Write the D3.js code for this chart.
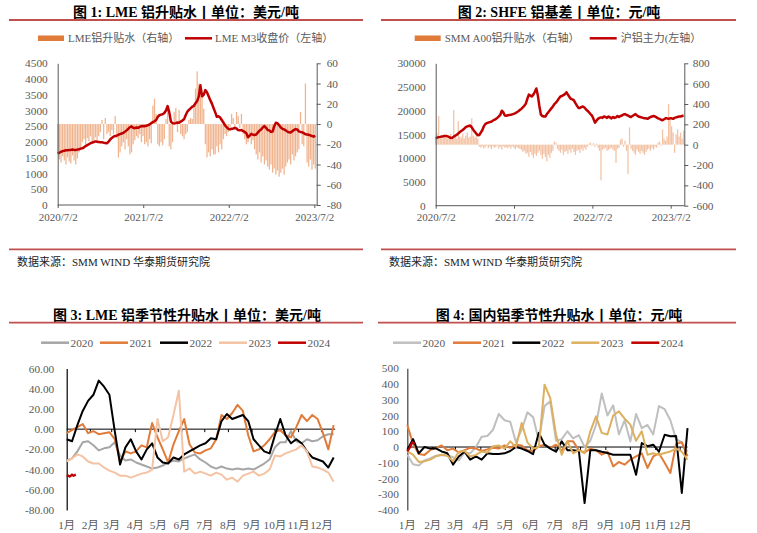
<!DOCTYPE html>
<html><head><meta charset="utf-8">
<script src="https://cdn.jsdelivr.net/npm/d3@7"></script>
<style>
body{margin:0;background:#fff}
svg{display:block}
text{font-family:"Liberation Serif","Times New Roman","Noto Sans CJK SC",serif}
</style>
</head><body>
<svg id="c" width="757" height="533"></svg>
<script>
// ---------------- DATA ----------------
// Panel 1: LME weekly, starting 2020/7/2
const p1Spread = [-30,-35,-38,-32,-36,-40,-33,-37,-39,-31,-36,-40,-34,
 -28,-24,
 -18,-15,-20,-14,-17,-12,-19,-16,-13,-18,
 -12,-8,4,-15,6,-10,
 -8,-12,-6,-10,8,-14,
 -33,-28,-22,
 -18,-25,-15,-22,-30,-28,-20,-16,-12,
 -14,-10,-18,-12,
 -20,-18,-22,-15,-19,
 18,25,10,
 -20,-22,-18,-21,-15,
 5,16,-22,-25,-18,
 12,16,-8,14,-10,
 -12,-15,-10,-8,
 4,6,5,
 20,35,52,40,28,
 30,15,
 -20,-33,-28,-32,-25,-30,
 -30,-22,-28,-20,
 -25,-15,-10,-12,
 -8,-5,10,6,-6,12,8,-4,10,
 -10,-15,-20,-18,-12,-20,-16,
 -25,-30,-35,-28,-38,-32,-40,-36,
 -42,-45,-40,-48,-44,-50,-46,-52,-48,-44,-50,-42,
 -38,-35,-40,-30,-36,-32,
 -28,-25,12,-20,-22,
 40,
 -38,-42,-35,-45,-40,-44];
const p1Price = [1640,1660,1690,1710,1725,1740,1735,1745,1750,1760,
 1750,1745,1760,1770,1790,1800,1830,1870,1900,1930,
 1960,1980,2000,2020,2010,2000,1990,1995,1980,1970,
 1960,2010,2080,2130,2170,2190,2200,2230,2250,2270,
 2290,2330,2370,2420,2470,2500,2450,2440,2460,2450,
 2480,2500,2510,2500,2520,2530,2560,2600,2630,2660,
 2700,2800,2850,2870,2880,2920,3000,3140,2950,2650,
 2600,2590,2600,2620,2610,2650,2680,2720,2850,2960,
 3020,3070,3120,3150,3230,3300,3450,3800,3450,3500,
 3650,3580,3450,3330,3220,3080,2950,2800,2820,2780,
 2700,2620,2530,2470,2420,2400,2420,2430,2450,2430,
 2380,2370,2380,2350,2320,2280,2150,2200,2260,2230,
 2220,2240,2300,2360,2400,2460,2510,2450,2380,2370,
 2320,2330,2500,2610,2600,2530,2460,2420,2400,2370,
 2330,2310,2300,2340,2380,2410,2400,2340,2320,2310,
 2280,2250,2240,2230,2210,2190,2170,2200];

// Panel 2: SHFE weekly, starting 2020/7/2
const p2Spread = [70,110,280,80,60,100,70,90,60,80,
 110,70,340,90,60,230,80,70,110,60,
 90,120,70,80,260,90,70,110,60,
 -20,-30,-15,-40,-25,-10,-35,-20,-45,-15,-30,-25,-10,-40,-20,-50,-15,-30,-25,-35,-20,-40,-15,-30,-45,-25,-35,-40,
 -50,-70,-60,-90,-80,-120,-70,-100,-130,-90,-110,-80,-60,-100,-140,-90,-120,-165,-100,-130,-80,-60,
 30,20,
 -40,-60,-80,-50,-100,-70,-60,-90,-50,-80,-40,-70,-100,-60,-50,-80,-40,-60,-30,-50,-20,
 10,20,-10,15,-20,10,-30,
 -60,-350,-50,
 -40,-30,-60,-50,-40,-30,-50,-60,
 -180,
 -40,-30,50,60,-20,
 40,-60,-290,170,
 -40,-60,-80,-100,-50,-70,-90,-60,-80,-100,-70,-50,-40,-60,-30,-50,-20,-30,
 20,30,-10,
 150,
 60,40,80,
 400,
 250,180,120,
 -80,
 100,150,80,120,60,140];
const p2Price = [14230,14350,14450,14500,14570,14620,14680,14710,14600,14450,
 14280,14300,14550,14750,14920,15200,15500,15750,15950,16250,
 16550,16700,16800,16880,16500,16000,15600,15200,14850,14900,
 15400,15900,16700,17200,17380,17500,17600,17700,17900,18100,
 18250,18500,18800,19150,20000,19700,19000,18950,19050,19100,
 19150,19250,19350,19500,19700,19900,20150,20400,20700,21050,
 21500,22500,23400,23200,23000,23400,24000,24700,23200,21000,
 19200,18900,18800,18800,19300,19700,20100,20500,20900,21400,
 21700,22100,22600,23000,23100,23300,23500,23900,23400,22900,
 22500,22400,22200,21600,21100,20600,20600,20800,20900,20700,
 20300,20000,19700,19300,19000,18300,17500,17900,18300,18500,
 18600,18500,18800,18700,18500,18800,18600,18400,18700,18500,
 18600,18900,18700,18900,19000,19200,19300,19100,19000,18800,
 18700,18900,19100,19300,19000,18800,18700,18600,18500,18400,
 18400,18300,18500,18700,18800,18900,18800,18600,18400,18300,
 18100,18000,18200,18400,18400,18300,18400,18400,18300,18500,
 18600,18700,18800,18800,18900,19000];

const dateTickLabels = ["2020/7/2","2021/7/2","2022/7/2","2023/7/2"];
const p1LeftTicks = [0,500,1000,1500,2000,2500,3000,3500,4000,4500];
const p1RightTicks = [-80,-60,-40,-20,0,20,40,60];
const p2LeftTicks = [0,5000,10000,15000,20000,25000,30000];
const p2RightTicks = [-600,-400,-200,0,200,400,600,800];

// Panel 3: LME seasonal, weekly from Jan 1
const p3_2020 = [-31,-29,-22,-13,-12,-16,-21,-19,-18,-13,-26,-31,-30,-33,-35,-37,-39,-38,-36,-33,-31,-32,-29,-27,-25,-30,-33,-37,-39,-37,-39,-40,-39,-40,-39,-40,-37,-34,-30,-18,-13,-13,-2,-12,-14,-10,-12,-11,-7,-5,-5];
const p3_2021 = [-4,-1,2,5,-4,-2,-5,-4,-3,-10,-32,-22,-24,-22,-16,-18,6,-8,-20,-33,-15,-2,10,-15,-23,-24,-21,-19,-10,14,10,16,24,18,-6,-22,-20,-16,-10,-3,-1,-6,-8,2,14,8,14,10,-4,-20,4];
const p3_2022 = [-10,-12,4,18,28,34,48,42,34,-2,-35,-18,-10,-22,-30,-20,-14,-28,-33,-34,-28,-30,-25,-22,-19,-16,-14,-9,-10,8,15,10,12,14,8,-10,-16,-22,-24,-6,10,-6,-14,-10,-14,-22,-28,-30,-32,-38,-28];
const p3_2023 = [-32,-29,-25,-27,-32,-34,-34,-38,-41,-43,-46,-46,-48,-46,-44,-43,-40,10,-12,-8,14,38,-42,-39,-44,-42,-44,-46,-43,-45,-50,-48,-52,-46,-44,-42,-46,-44,-40,-26,-27,-24,-22,-20,-16,-22,-37,-38,-40,-43,-52];
const p3Days2024 = [0,2,4,7,9,12];
const p3_2024 = [-47,-46,-47,-45,-46,-45];
const p3Ticks = [-80,-60,-40,-20,0,20,40,60];

// Panel 4: domestic seasonal, weekly from Jan 1
const p4_2020 = [-49,-110,-118,-85,-72,-55,-50,-52,-65,-85,-35,-40,0,65,70,110,210,170,160,30,110,220,190,40,260,290,40,50,100,55,75,0,40,140,340,200,265,80,170,35,210,120,140,80,260,240,170,50,30,-30];
const p4_2021 = [140,20,-45,-50,-20,-5,10,-20,-10,-35,-20,-5,-10,-25,-15,-5,-10,10,-5,15,10,-20,-25,5,15,-5,15,-25,36,36,-20,-35,-10,-20,-49,-30,-123,-95,-112,-80,-60,-40,-133,-60,-40,-100,-165,20,30,-60];
const p4_2022 = [-17,50,-40,0,-10,-8,-28,-40,-112,-60,-30,-80,-60,-80,-40,-45,-45,-40,-25,0,-10,-25,-45,90,15,-10,-30,36,-20,-20,-25,-356,-20,-20,-30,-38,-49,-49,-49,-49,-176,25,5,15,-30,78,68,70,-292,120];
const p4_2023 = [-28,-49,-95,-91,-80,-59,-49,-55,-91,-30,-25,-60,-50,-28,-35,5,10,-10,36,0,152,30,-10,0,396,311,80,-49,36,-40,-20,-40,100,195,90,80,200,227,180,142,40,100,-49,-40,-49,-38,-28,-10,-30,-80];
const p4Days2024 = [0,3,6,9];
const p4_2024 = [-28,-5,30,20];
const p4Ticks = [-400,-300,-200,-100,0,100,200,300,400,500];

const monthLabels = ["1月","2月","3月","4月","5月","6月","7月","8月","9月","10月","11月","12月"];
const monthStartDays = [0,31,59,90,120,151,181,212,243,273,304,334];
const seriesYears = ["2020","2021","2022","2023","2024"];

// ---------------- DRAW ----------------
const svg = d3.select('#c');
const TICKC = '#595959';
const RULEC = '#c0504d';

function title(cx, y, str) {
  svg.append('text').attr('x', cx).attr('y', y).attr('text-anchor', 'middle')
    .attr('font-size', '14px').attr('font-weight', 'bold').attr('fill', '#000').text(str);
}
function rule(x1, x2, y) {
  svg.append('line').attr('x1', x1).attr('x2', x2).attr('y1', y).attr('y2', y)
    .attr('stroke', RULEC).attr('stroke-width', 1.8);
}
function source(x, y) {
  svg.append('text').attr('x', x).attr('y', y).attr('font-size', '11px').attr('fill', '#222')
    .text('数据来源：SMM WIND 华泰期货研究院');
}
function styleAxis(g, color, size) {
  g.selectAll('path.domain').attr('stroke', color);
  g.selectAll('.tick line').attr('stroke', color);
  g.selectAll('.tick text').attr('fill', TICKC).attr('font-size', size)
    .attr('font-family', '"Liberation Serif","Noto Sans CJK SC",serif');
}

function dualPanel(c) {
  const start = new Date(2020, 6, 2);
  const tickDates = [0,1,2,3].map(k => new Date(2020 + k, 6, 2));
  const x = d3.scaleTime().domain([tickDates[0], tickDates[3]]).range([c.x0, c.xT3]);
  const yL = d3.scaleLinear().domain([c.leftTicks[0], c.leftTicks[c.leftTicks.length-1]]).range([c.yB, c.yT]);
  const yR = d3.scaleLinear().domain([c.rightTicks[0], c.rightTicks[c.rightTicks.length-1]]).range([c.yB, c.yT]);
  const dt = i => d3.timeDay.offset(start, 7 * i);
  const g = svg.append('g');
  g.append('g').selectAll('rect').data(c.spread).join('rect')
    .attr('x', (d, i) => x(dt(i)) - 0.6).attr('width', 1.25)
    .attr('y', d => Math.min(yR(d), yR(0))).attr('height', d => Math.abs(yR(d) - yR(0)))
    .attr('fill', '#eb9a68').attr('opacity', c.barOpacity);
  g.append('path').datum(c.price)
    .attr('d', d3.line().x((d, i) => x(dt(i))).y(d => yL(d)))
    .attr('fill', 'none').attr('stroke', '#c00000').attr('stroke-width', 2.5).attr('stroke-linejoin', 'round');
  const ax = g.append('g').attr('transform', `translate(${c.x0},0)`)
    .call(d3.axisLeft(yL).tickValues(c.leftTicks).tickSize(0).tickPadding(10).tickFormat(d => String(d)));
  styleAxis(ax, '#595959', '11.3px');
  const ar = g.append('g').attr('transform', `translate(${c.xR},0)`)
    .call(d3.axisRight(yR).tickValues(c.rightTicks).tickSize(4).tickSizeOuter(0).tickPadding(c.rPad).tickFormat(d => String(d)));
  styleAxis(ar, '#595959', '11.3px');
  const ab = g.append('g').attr('transform', `translate(0,${c.yB})`)
    .call(d3.axisBottom(x).tickValues(tickDates).tickSize(3).tickSizeOuter(0).tickPadding(5)
      .tickFormat((d, i) => dateTickLabels[i]));
  ab.select('path.domain').attr('d', `M${c.x0},0H${c.xR}`);
  styleAxis(ab, '#595959', '11px');
  // legend
  const L = c.legend;
  g.append('rect').attr('x', L.r0).attr('y', 35.5).attr('width', 26).attr('height', 5.5).attr('fill', '#e07b39');
  g.append('text').attr('x', L.t0).attr('y', 42).attr('font-size', '11px').attr('fill', TICKC).text(L.s0);
  g.append('line').attr('x1', L.r1).attr('x2', L.r1 + 27).attr('y1', 38.3).attr('y2', 38.3)
    .attr('stroke', '#c00000').attr('stroke-width', 2.5);
  g.append('text').attr('x', L.t1).attr('y', 42).attr('font-size', '11px').attr('fill', TICKC).text(L.s1);
}

function seasonal(c) {
  const x = d3.scaleLinear().domain([0, 365]).range([c.x0, c.x1]);
  const y = d3.scaleLinear().domain([c.ticks[0], c.ticks[c.ticks.length-1]]).range([510, c.yT]);
  const g = svg.append('g');
  g.append('line').attr('x1', c.x0).attr('x2', x(c.endDay)).attr('y1', y(0)).attr('y2', y(0))
    .attr('stroke', c.zeroColor).attr('stroke-width', 1);
  g.append('g').selectAll('line').data(monthStartDays.slice(1).filter(d => d < c.endDay)).join('line')
    .attr('x1', d => x(d)).attr('x2', d => x(d)).attr('y1', y(0)).attr('y2', y(0) + 3)
    .attr('stroke', c.zeroColor).attr('stroke-width', 1);
  const ay = g.append('g').attr('transform', `translate(${c.x0},0)`)
    .call(d3.axisLeft(y).tickValues(c.ticks).tickSize(0).tickSizeOuter(0).tickPadding(c.lPad).tickFormat(c.fmt));
  styleAxis(ay, c.axisColor, '11.3px');
  ay.select('path.domain').attr('stroke-width', 1.2);
  g.append('g').selectAll('text').data(monthLabels).join('text')
    .attr('x', (d, i) => x(monthStartDays[i])).attr('y', 529).attr('text-anchor', 'middle')
    .attr('font-size', '11.3px').attr('fill', TICKC).text(d => d);
  const weekly = d3.line().x((d, i) => x(7 * i)).y(d => y(d));
  c.series.forEach((s, k) => {
    if (k < 4) {
      g.append('path').datum(s).attr('d', weekly).attr('fill', 'none')
        .attr('stroke', c.colors[k]).attr('stroke-width', 2).attr('stroke-linejoin', 'round');
    } else {
      g.append('path').datum(s).attr('d', d3.line().x((d, i) => x(c.days2024[i])).y(d => y(d)))
        .attr('fill', 'none').attr('stroke', c.colors[k]).attr('stroke-width', 2.2);
    }
  });
  seriesYears.forEach((yr, k) => {
    g.append('line').attr('x1', c.legX[k]).attr('x2', c.legX[k] + 28).attr('y1', 342.7).attr('y2', 342.7)
      .attr('stroke', c.colors[k]).attr('stroke-width', 2.5);
    g.append('text').attr('x', c.legX[k] + 29.5).attr('y', 346.8).attr('font-size', '11.3px')
      .attr('fill', TICKC).text(yr);
  });
}

title(186, 16.5, '图  1: LME 铝升贴水丨单位：美元/吨');
title(559, 16.5, '图  2: SHFE 铝基差丨单位：元/吨');
title(187, 319.5, '图  3: LME 铝季节性升贴水丨单位：美元/吨');
title(559, 319.5, '图  4: 国内铝季节性升贴水丨单位：元/吨');
rule(9, 363, 20); rule(381, 736, 20);
rule(9, 363, 249.3); rule(381, 736, 249.3);
rule(9, 363, 322.7); rule(378, 736, 322.7);
source(17, 266); source(389, 266);

dualPanel({x0: 57.7, xT3: 314.3, xR: 316.7, yB: 205, yT: 63.3, rPad: 6, barOpacity: 0.75,
  leftTicks: p1LeftTicks, rightTicks: p1RightTicks, spread: p1Spread, price: p1Price,
  legend: {r0: 38, t0: 68, s0: 'LME铝升贴水（右轴）', r1: 185, t1: 215, s1: 'LME M3收盘价（左轴）'}});
dualPanel({x0: 435.7, xT3: 670.7, xR: 684.3, yB: 205.7, yT: 63.3, rPad: 4.5, barOpacity: 0.6,
  leftTicks: p2LeftTicks, rightTicks: p2RightTicks, spread: p2Spread, price: p2Price,
  legend: {r0: 414.7, t0: 444.7, s0: 'SMM A00铝升贴水（右轴）', r1: 589.7, t1: 620.7, s1: '沪铝主力(左轴）'}});

seasonal({x0: 66.7, x1: 345.1, yT: 368.5, endDay: 352, ticks: p3Ticks, lPad: 12.5,
  fmt: d => d.toFixed(2), zeroColor: '#000', axisColor: '#000',
  series: [p3_2020, p3_2021, p3_2022, p3_2023, p3_2024], days2024: p3Days2024,
  colors: ['#a6a6a6', '#e07b39', '#000000', '#f4c3a3', '#c00000'],
  legX: [41, 100, 160, 219, 278]});
seasonal({x0: 407.3, x1: 705.5, yT: 368.3, endDay: 343, ticks: p4Ticks, lPad: 8.5,
  fmt: d => String(d), zeroColor: '#000', axisColor: '#404040',
  series: [p4_2020, p4_2021, p4_2022, p4_2023, p4_2024], days2024: p4Days2024,
  colors: ['#bfbfbf', '#e07b39', '#000000', '#dcb05f', '#c00000'],
  legX: [393, 453, 512.3, 571.3, 631.3]});
</script>
</body></html>
